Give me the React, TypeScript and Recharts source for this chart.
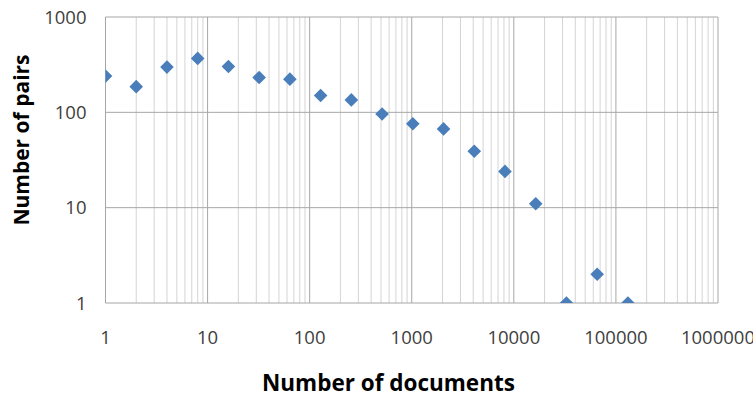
import React from "react";
import { ScatterChart, Scatter, XAxis, YAxis, ReferenceLine } from "recharts";

const docCounts = [1, 2, 4, 8, 16, 32, 64, 128, 256, 512, 1024, 2048, 4096, 8192, 16384, 32768, 65536, 131072];
const pairCounts = [240, 186, 298, 368, 302, 232, 223, 150, 135, 96, 76, 67, 39, 24, 11, 1, 2, 1];
const xTicks = [1, 10, 100, 1000, 10000, 100000, 1000000];
const yTicks = [1, 10, 100, 1000];
const minorMultipliers = [2, 3, 4, 5, 6, 7, 8, 9];

const data = docCounts.map((x, i) => ({ x, y: pairCounts[i] }));
const xMinor: number[] = [];
xTicks.slice(0, -1).forEach((d) => minorMultipliers.forEach((m) => xMinor.push(d * m)));

const FONT = "'Open Sans', sans-serif";

const Diamond = (props: any) => {
  const { cx, cy } = props;
  const r = 6.8;
  return (
    <path
      d={`M${cx},${cy - r}L${cx + r},${cy}L${cx},${cy + r}L${cx - r},${cy}Z`}
      fill="#4a7ebb"
    />
  );
};

export default function App() {
  return (
    <div style={{ position: "absolute", left: 0, top: 0, width: 753, height: 398, background: "#fff" }}>
      <ScatterChart width={753} height={398} margin={{ top: 17, right: 35, bottom: 94, left: 0 }}>
        <XAxis
          type="number"
          dataKey="x"
          scale="log"
          domain={[1, 1000000]}
          ticks={xTicks}
          allowDataOverflow
          height={1}
          axisLine={false}
          tickLine={false}
          tickSize={0}
          tickMargin={28}
          interval={0}
          tick={{ fill: "#404040", fontSize: 18.5, fontFamily: FONT }}
        />
        <YAxis
          type="number"
          dataKey="y"
          scale="log"
          domain={[1, 1000]}
          ticks={yTicks}
          allowDataOverflow
          width={105.5}
          axisLine={false}
          tickLine={false}
          tickSize={0}
          tickMargin={19}
          interval={0}
          tick={{ fill: "#404040", fontSize: 18.5, fontFamily: FONT }}
        />
        {xMinor.map((v) => (
          <ReferenceLine key={"mx" + v} x={v} stroke="#d4d4d4" strokeWidth={1} ifOverflow="hidden" />
        ))}
        {xTicks.map((v) => (
          <ReferenceLine key={"x" + v} x={v} stroke="#a6a6a6" strokeWidth={1} />
        ))}
        {yTicks.map((v) => (
          <ReferenceLine key={"y" + v} y={v} stroke="#a6a6a6" strokeWidth={1} />
        ))}
        <Scatter data={data} shape={<Diamond />} isAnimationActive={false} />
      </ScatterChart>
      <div
        style={{
          position: "absolute",
          left: 262,
          top: 368,
          fontFamily: FONT,
          fontWeight: 700,
          fontSize: 22.5,
          color: "#000",
          whiteSpace: "nowrap",
          lineHeight: "30px",
        }}
      >
        Number of documents
      </div>
      <div
        style={{
          position: "absolute",
          left: 21,
          top: 140,
          transform: "translate(-50%, -50%) rotate(-90deg)",
          fontFamily: FONT,
          fontWeight: 700,
          fontSize: 21,
          color: "#000",
          whiteSpace: "nowrap",
          lineHeight: "30px",
        }}
      >
        Number of pairs
      </div>
    </div>
  );
}
